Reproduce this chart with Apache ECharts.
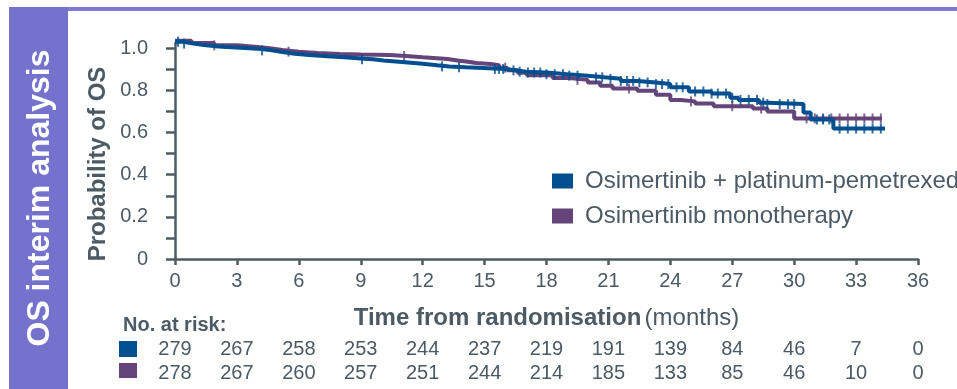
<!DOCTYPE html>
<html>
<head>
<meta charset="utf-8">
<script src="https://cdn.jsdelivr.net/npm/echarts@6/dist/echarts.min.js"></script>
<style>
  html, body { margin: 0; padding: 0; background: #fff; }
  #chart { width: 957px; height: 389px; }
</style>
</head>
<body>
<div id="chart"></div>
<script>
(function(){
  /** Data */
  var combName = 'Osimertinib + platinum-pemetrexed';
  var monoName = 'Osimertinib monotherapy';

  var combTime = [0, 0.4, 0.9, 1.4, 2.1, 3.6, 4.2, 4.7, 5.2, 5.8, 6.5, 7.4, 8.2, 9.0, 9.6, 10.1, 11.0, 12.0, 12.7, 13.3, 14.1,
    16.0, 16.6, 17.0, 18.0, 19.0, 20.0, 20.8, 21.6, 22.4, 23.3, 24.0, 24.9, 26.0, 26.9, 27.3, 28.3, 28.7, 30.45, 30.8, 31.9, 34.4];
  var combSurv = [1.031, 1.022, 1.015, 1.008, 1.000, 0.996, 0.990, 0.982, 0.974, 0.968, 0.962, 0.957, 0.952, 0.948, 0.942, 0.935, 0.927, 0.919, 0.914, 0.910, 0.902,
    0.895, 0.889, 0.885, 0.877, 0.870, 0.862, 0.855, 0.845, 0.838, 0.830, 0.815, 0.795, 0.785, 0.765, 0.755, 0.742, 0.735, 0.695, 0.662, 0.619, 0.619];

  var monoTime = [0, 0.8, 1.9, 3.0, 4.0, 4.6, 5.2, 6.0, 6.9, 8.0, 9.0, 10.4, 11.2, 12.0, 12.7, 13.2, 13.7, 14.2, 14.6, 15.3, 15.7, 16.1, 16.6, 17.05, 18.3,
    19.1, 20.0, 20.6, 21.2, 22.4, 23.3, 24.0, 24.5, 25.2, 26.1, 28.0, 28.7, 30.0, 34.25];
  var monoSurv = [1.036, 1.025, 1.014, 1.006, 1.000, 0.992, 0.984, 0.978, 0.973, 0.970, 0.968, 0.963, 0.957, 0.953, 0.949, 0.942, 0.936, 0.930, 0.925, 0.919, 0.908, 0.896, 0.884, 0.872, 0.859,
    0.850, 0.837, 0.822, 0.809, 0.798, 0.780, 0.754, 0.748, 0.738, 0.725, 0.714, 0.700, 0.667, 0.667];

  // censoring marks (months)
  var combCensor = [0.15, 0.44, 4.22, 9.06, 12.94, 13.76, 15.5, 15.7, 15.9, 16.4, 16.7, 17.1, 17.4, 17.7, 18.0, 18.4, 18.8, 19.1, 19.5,
    20.4, 20.7, 21.1, 21.6, 21.9, 22.2, 22.5, 22.9, 23.3, 23.6, 23.9, 24.3, 24.6, 25.2, 25.6, 26.0, 26.3, 26.7, 27.0, 27.4, 27.8,
    28.2, 28.5, 28.7, 29.3, 29.7, 30.0, 31.1, 31.4, 31.7, 32.2, 32.6, 33.0, 33.4, 33.8, 34.2];
  var monoCensor = [1.9, 5.5, 11.1, 16.0, 19.5, 22.0, 25.0, 27.0, 28.4, 30.6, 31.0, 31.4, 31.8, 32.2, 32.6, 33.0, 33.4, 33.8, 34.2];

  var yTicks = [0, 0.1, 0.2, 0.3, 0.4, 0.5, 0.6, 0.7, 0.8, 0.9, 1.0];
  var yLabels = [0, 0.2, 0.4, 0.6, 0.8, 1.0];

  var combRisk = [279, 267, 258, 253, 244, 237, 219, 191, 139, 84, 46, 7, 0];
  var monoRisk = [278, 267, 260, 257, 251, 244, 214, 185, 133, 85, 46, 10, 0];

  /** Styles */
  var BLUE = '#024f90';
  var PURPLE = '#654479';
  var INK = '#4b5a64';
  var AXIS = '#4d5c63';
  var FONT = '"Liberation Sans", Arial, sans-serif';

  function pairs(t, s) {
    return t.map(function(v, i) { return [v, s[i]]; });
  }
  function survAt(t, s, x) {
    var v = s[0];
    for (var i = 0; i < t.length; i++) { if (t[i] <= x) v = s[i]; }
    return v;
  }
  function censorPts(c, t, s) {
    return c.map(function(x) { return [x, survAt(t, s, x)]; });
  }

  function riskAxis(arr, offset) {
    return {
      type: 'value', gridIndex: 0, position: 'bottom', offset: offset,
      min: 0, max: 36, interval: 3,
      axisLine: { show: false }, axisTick: { show: false }, splitLine: { show: false },
      axisLabel: {
        margin: 0, color: INK, fontSize: 20, fontFamily: FONT,
        formatter: function(v) { return String(arr[Math.round(v / 3)]); }
      }
    };
  }

  var option = {
    animation: false,
    grid: { left: 175, top: 43, width: 743, height: 216 },
    legend: {
      left: 552, top: 169, orient: 'vertical', padding: 0,
      itemWidth: 21, itemHeight: 15, itemGap: 11,
      data: [{ name: combName, icon: 'rect' }, { name: monoName, icon: 'rect' }],
      itemStyle: { borderWidth: 0 },
      textStyle: { color: INK, fontSize: 24, fontFamily: FONT, padding: [0, 0, 0, 7] }
    },
    xAxis: [{
      type: 'value', min: 0, max: 36, interval: 3,
      axisLine: { lineStyle: { color: AXIS, width: 2.5 } },
      axisTick: { length: 6, lineStyle: { color: AXIS, width: 2.5 } },
      splitLine: { show: false },
      axisLabel: { margin: 12, color: INK, fontSize: 20, fontFamily: FONT },
      name: '{b|Time from randomisation} {n|(months)}',
      nameLocation: 'middle', nameGap: 47,
      nameTextStyle: {
        rich: {
          b: { fontSize: 24, fontWeight: 'bold', color: INK, fontFamily: FONT },
          n: { fontSize: 24, color: INK, fontFamily: FONT }
        }
      }
    }, riskAxis(combRisk, 80), riskAxis(monoRisk, 104)],
    yAxis: {
      type: 'value', min: 0, max: 1.025,
      axisLine: { show: true, lineStyle: { color: AXIS, width: 2.5 } },
      axisTick: { show: true, length: 9, customValues: yTicks, lineStyle: { color: AXIS, width: 2.5 } },
      splitLine: { show: false },
      axisLabel: {
        margin: 27, color: INK, fontSize: 20, fontFamily: FONT, customValues: yLabels,
        formatter: function(v) { return v === 0 ? '0' : v.toFixed(1); }
      }
    },
    graphic: [
      { type: 'rect', shape: { x: 9, y: 7, width: 948, height: 4 }, style: { fill: '#7c7ad4' } },
      { type: 'rect', shape: { x: 9, y: 7, width: 59, height: 382 }, style: { fill: '#7472cc' } },
      { type: 'text', x: 40, y: 198, rotation: Math.PI / 2,
        style: { text: 'OS interim analysis', fill: '#fff', font: 'bold 32px ' + FONT, align: 'center', verticalAlign: 'middle' } },
      { type: 'text', x: 98, y: 164, rotation: Math.PI / 2,
        style: { text: 'Probability of OS', fill: INK, font: 'bold 24px ' + FONT, align: 'center', verticalAlign: 'middle' } },
      { type: 'text', x: 123, y: 325,
        style: { text: 'No. at risk:', fill: INK, font: 'bold 20px ' + FONT, verticalAlign: 'middle' } },
      { type: 'rect', shape: { x: 119, y: 341, width: 18, height: 16 }, style: { fill: BLUE } },
      { type: 'rect', shape: { x: 119, y: 363, width: 18, height: 15 }, style: { fill: PURPLE } }
    ],
    series: [{
      name: monoName, type: 'line', step: 'end', symbol: 'none', clip: false,
      color: PURPLE, itemStyle: { color: PURPLE },
      lineStyle: { color: PURPLE, width: 4 },
      data: pairs(monoTime, monoSurv), z: 2
    }, {
      name: 'mono-censor', type: 'scatter', symbol: 'rect', symbolSize: [2, 10], clip: false, silent: true,
      itemStyle: { color: PURPLE },
      data: censorPts(monoCensor, monoTime, monoSurv), z: 3
    }, {
      name: combName, type: 'line', step: 'end', symbol: 'none', clip: false,
      color: BLUE, itemStyle: { color: BLUE },
      lineStyle: { color: BLUE, width: 4 },
      data: pairs(combTime, combSurv), z: 4
    }, {
      name: 'comb-censor', type: 'scatter', symbol: 'rect', symbolSize: [2, 10], clip: false, silent: true,
      itemStyle: { color: BLUE },
      data: censorPts(combCensor, combTime, combSurv), z: 5
    }]
  };

  echarts.init(document.getElementById('chart'), null, { renderer: 'canvas' }).setOption(option);
})();
</script>
</body>
</html>
